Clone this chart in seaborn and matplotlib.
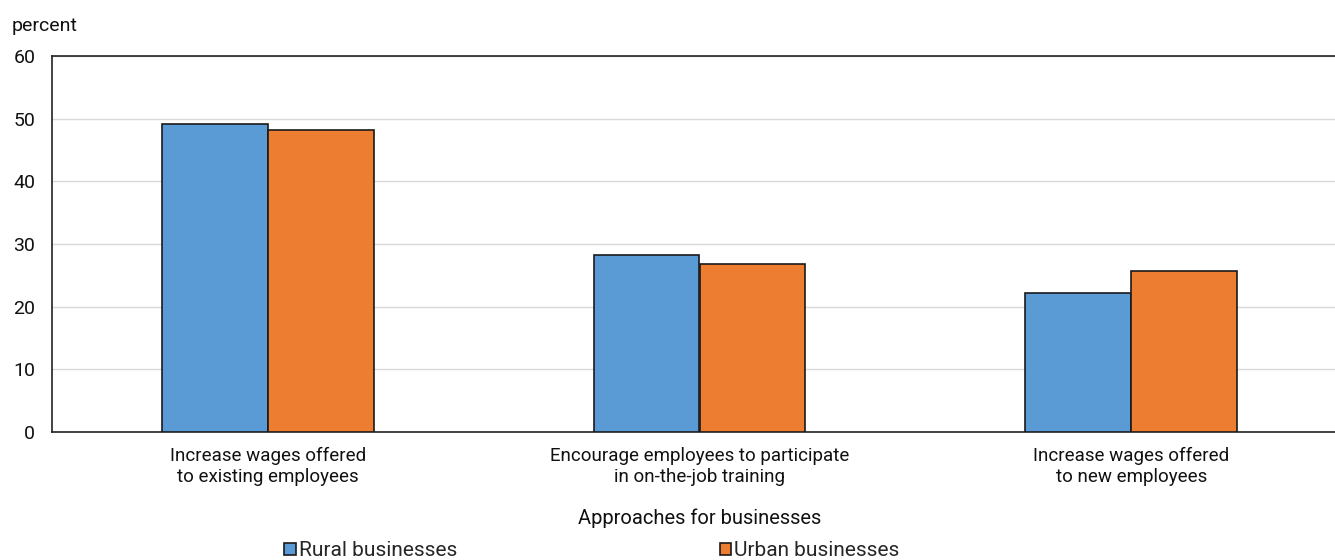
import matplotlib
matplotlib.use("Agg")
import matplotlib.pyplot as plt
import seaborn as sns
import pandas as pd
from matplotlib import font_manager

categories = [
    "Increase wages offered\nto existing employees",
    "Encourage employees to participate\nin on-the-job training",
    "Increase wages offered\nto new employees",
]
rural = [49.1, 28.2, 22.2]
urban = [48.2, 26.8, 25.7]
series_names = ["Rural businesses", "Urban businesses"]
colors = ["#5B9BD5", "#ED7D31"]

df = pd.DataFrame({
    "category": categories * 2,
    "value": rural + urban,
    "series": [series_names[0]] * 3 + [series_names[1]] * 3,
})

sns.set_theme(style="white")
names = {f.name for f in font_manager.fontManager.ttflist}
family = "Liberation Sans Narrow" if "Liberation Sans Narrow" in names else "Roboto"
plt.rcParams["font.family"] = [family, "DejaVu Sans"]

fig = plt.figure(figsize=(13.35, 5.6), dpi=100)
# plot area runs slightly past the right edge of the canvas
ax = fig.add_axes([52 / 1335, 1 - 432 / 560, (1347 - 52) / 1335, (432 - 56) / 560])

sns.barplot(data=df, x="category", y="value", hue="series", palette=colors,
            width=0.49, edgecolor="#1a1a1a", linewidth=1.2, ax=ax, zorder=3,
            saturation=1)

ax.set_ylim(0, 60)
ax.set_xlim(-0.5, 2.5)
ax.set_yticks(range(0, 61, 10))
ax.yaxis.grid(True, color="#d9d9d9", linewidth=1, zorder=0)
ax.tick_params(axis="y", labelsize=14, length=0, pad=12, colors="#111111")
ax.tick_params(axis="x", labelsize=13.5, length=0, pad=11, colors="#111111")
for s in ax.spines.values():
    s.set_color("#222222")
    s.set_linewidth(1.2)
ax.spines["right"].set_visible(False)

ax.set_ylabel("")
ax.set_xlabel("Approaches for businesses", fontsize=14.5, labelpad=16, color="#111111")
fig.text(12 / 1335, 1 - 26 / 560, "percent", fontsize=14, va="center", ha="left", color="#111111")

handles, labels = ax.get_legend_handles_labels()
ax.legend_.remove()
fig.legend(handles, labels, loc="center", bbox_to_anchor=(592 / 1335, 1 - 551 / 560), ncol=2,
           frameon=False, fontsize=15, handlelength=0.55, handleheight=0.55,
           handletextpad=0.15, columnspacing=12.6, borderaxespad=0)

fig.savefig("out.png", dpi=100)
